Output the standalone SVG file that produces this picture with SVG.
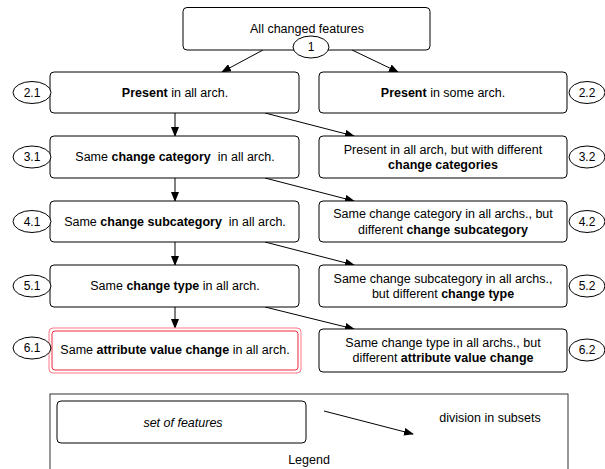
<svg xmlns="http://www.w3.org/2000/svg" width="605" height="469" viewBox="0 0 605 469">
<style>
.box{fill:#fff;stroke:#000;stroke-width:1}
.ell{fill:#fff;stroke:#000;stroke-width:1}
text{font-family:"Liberation Sans",Arial,Helvetica,sans-serif;font-size:12.5px;fill:#000;white-space:pre}
.c{text-anchor:middle;dominant-baseline:central}
.b{font-weight:bold}
.e{font-size:12px}
.edge{stroke:#000;stroke-width:1;fill:none;marker-end:url(#ah)}
</style>
<defs>
<marker id="ah" markerWidth="10" markerHeight="8" refX="9" refY="4" orient="auto" markerUnits="userSpaceOnUse">
<path d="M0,0 L10,4 L0,8 Z" fill="#000"/>
</marker>
</defs>
<rect width="605" height="469" fill="#fff"/>

<g id="connectors">
<line class="edge" x1="263" y1="50" x2="222" y2="72"/>
<line class="edge" x1="352" y1="50" x2="398" y2="72"/>
<line class="edge" x1="175" y1="113" x2="175" y2="136"/>
<line class="edge" x1="265" y1="113" x2="354" y2="136"/>
<line class="edge" x1="175" y1="178" x2="175" y2="201"/>
<line class="edge" x1="265" y1="178" x2="354" y2="201"/>
<line class="edge" x1="175" y1="242" x2="175" y2="265"/>
<line class="edge" x1="265" y1="242" x2="354" y2="265"/>
<line class="edge" x1="175" y1="307" x2="175" y2="328"/>
<line class="edge" x1="265" y1="307" x2="354" y2="329"/>
</g>

<g id="n1">
<rect class="box" x="183" y="7.5" width="247" height="42.5" rx="4"/>
<text class="c" x="307" y="28.5">All changed features</text>
<ellipse class="ell" cx="311" cy="47" rx="18" ry="11"/>
<text class="c e" x="311" y="47">1</text>
</g>

<g id="n2_1">
<rect class="box" x="50" y="72" width="249" height="41" rx="4"/>
<text class="c" x="175" y="92.5"><tspan class="b">Present</tspan> in all arch.</text>
<ellipse class="ell" cx="32" cy="92.5" rx="19" ry="11"/>
<text class="c e" x="32" y="92.5">2.1</text>
</g>
<g id="n2_2">
<rect class="box" x="319" y="72" width="248" height="41" rx="4"/>
<text class="c" x="443" y="92.5"><tspan class="b">Present</tspan> in some arch.</text>
<ellipse class="ell" cx="587" cy="92.5" rx="18" ry="11"/>
<text class="c e" x="587" y="92.5">2.2</text>
</g>

<g id="n3_1">
<rect class="box" x="50" y="136" width="249" height="42" rx="4"/>
<text class="c" x="175" y="157">Same <tspan class="b">change category</tspan>  in all arch.</text>
<ellipse class="ell" cx="32" cy="157" rx="19" ry="11"/>
<text class="c e" x="32" y="157">3.1</text>
</g>
<g id="n3_2">
<rect class="box" x="319" y="136" width="248" height="42" rx="4"/>
<text class="c" x="443" y="149.5">Present in all arch, but with different</text>
<text class="c b" x="443" y="165">change categories</text>
<ellipse class="ell" cx="587" cy="157" rx="18" ry="11"/>
<text class="c e" x="587" y="157">3.2</text>
</g>

<g id="n4_1">
<rect class="box" x="50" y="201" width="249" height="41" rx="4"/>
<text class="c" x="175" y="221.5">Same <tspan class="b">change subcategory</tspan>  in all arch.</text>
<ellipse class="ell" cx="32" cy="221.5" rx="19" ry="11"/>
<text class="c e" x="32" y="221.5">4.1</text>
</g>
<g id="n4_2">
<rect class="box" x="319" y="201" width="248" height="41" rx="4"/>
<text class="c" x="443" y="214">Same change category in all archs., but</text>
<text class="c" x="443" y="229.5">different <tspan class="b">change subcategory</tspan></text>
<ellipse class="ell" cx="587" cy="221.5" rx="18" ry="11"/>
<text class="c e" x="587" y="221.5">4.2</text>
</g>

<g id="n5_1">
<rect class="box" x="50" y="265" width="249" height="42" rx="4"/>
<text class="c" x="175" y="286">Same <tspan class="b">change type</tspan> in all arch.</text>
<ellipse class="ell" cx="32" cy="286" rx="19" ry="11"/>
<text class="c e" x="32" y="286">5.1</text>
</g>
<g id="n5_2">
<rect class="box" x="319" y="265" width="248" height="42" rx="4"/>
<text class="c" x="443" y="278.5">Same change subcategory in all archs.,</text>
<text class="c" x="443" y="294">but different <tspan class="b">change type</tspan></text>
<ellipse class="ell" cx="587" cy="286" rx="18" ry="11"/>
<text class="c e" x="587" y="286">5.2</text>
</g>

<g id="n6_1">
<rect x="49" y="328" width="252" height="45" rx="4" fill="#fff" stroke="#ff7b86" stroke-width="1"/>
<rect x="52" y="331" width="246" height="39" rx="3" fill="none" stroke="#ee2a3c" stroke-width="1"/>
<text class="c" x="175" y="350">Same <tspan class="b">attribute value change</tspan> in all arch.</text>
<ellipse class="ell" cx="32" cy="348" rx="19" ry="11"/>
<text class="c e" x="32" y="348">6.1</text>
</g>
<g id="n6_2">
<rect class="box" x="319" y="329" width="248" height="43" rx="4"/>
<text class="c" x="443" y="342.5">Same change type in all archs., but</text>
<text class="c" x="443" y="358">different <tspan class="b">attribute value change</tspan></text>
<ellipse class="ell" cx="587" cy="350" rx="18" ry="11"/>
<text class="c e" x="587" y="350">6.2</text>
</g>

<g id="legend">
<rect x="50" y="394" width="518" height="90" fill="#fff" stroke="#333" stroke-width="1"/>
<rect class="box" x="57" y="401" width="249" height="42" rx="4"/>
<text class="c" x="183" y="423" font-style="italic">set of features</text>
<line class="edge" x1="324" y1="411" x2="413" y2="434"/>
<text class="c" x="490" y="418">division in subsets</text>
<text class="c" x="309" y="460">Legend</text>
</g>
</svg>
